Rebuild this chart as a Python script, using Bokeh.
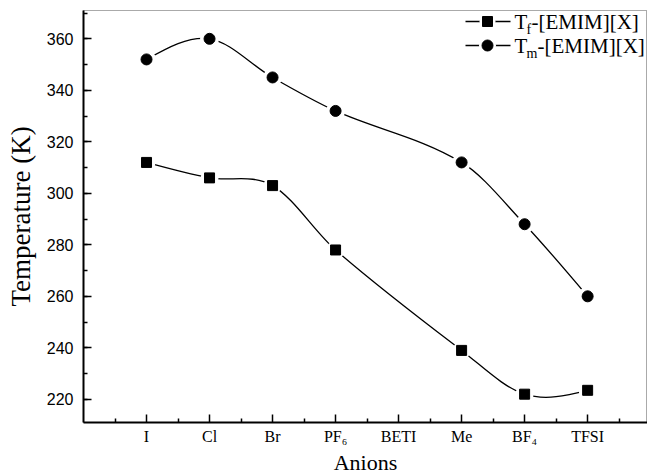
from bokeh.plotting import figure
from bokeh.models import FixedTicker, SingleIntervalTicker, Range1d, Title
from bokeh.core.properties import value
from bokeh.embed import file_html
from bokeh.resources import INLINE

# ---------------- data ----------------
anions = ["I", "Cl", "Br", "PF\u2086", "BETI", "Me", "BF\u2084", "TFSI"]
anion_pos = [1, 2, 3, 4, 5, 6, 7, 8]
tm_values = [352, 360, 345, 332, None, 312, 288, 260]     # T_m-[EMIM][X]
tf_values = [312, 306, 303, 278, None, 239, 222, 223.5]   # T_f-[EMIM][X]
minor_x = [0.5, 1.5, 2.5, 3.5, 4.5, 5.5, 6.5, 7.5, 8.5]
legend_tf = ("T", "f", "-[EMIM][X]")
legend_tm = ("T", "m", "-[EMIM][X]")
x_title = "Anions"
y_title = "Temperature (K)"

# ---------------- layout ----------------
X0, X1 = 0, 8.95
Y0, Y1 = 211, 371
FL, FT = 83, 10          # frame left / top in canvas pixels
FW, FH = 564, 412
SERIF = "Liberation Serif"
SANS = "Liberation Sans"

p = figure(frame_width=FW, frame_height=FH, x_range=Range1d(X0, X1), y_range=Range1d(Y0, Y1),
           output_backend="svg", toolbar_location=None,
           min_border_left=FL, min_border_right=0, min_border_top=FT, min_border_bottom=53)
p.background_fill_color = "white"
p.border_fill_color = "white"
p.xgrid.visible = False
p.ygrid.visible = False
p.outline_line_color = "#555555"
p.outline_line_width = 1
p.outline_line_dash = "1 1"

for ax in (p.xaxis[0], p.yaxis[0]):
    ax.axis_line_width = 2
    ax.axis_line_color = "black"
    ax.major_tick_line_width = 1.5
    ax.minor_tick_line_width = 1.5
    ax.major_tick_in = 8
    ax.major_tick_out = 0
    ax.minor_tick_in = 4
    ax.minor_tick_out = 0
    ax.axis_label_text_font = SERIF
    ax.axis_label_text_font_style = "normal"
    ax.axis_label_text_color = "black"
    ax.major_label_text_color = "black"

p.xaxis.ticker = FixedTicker(ticks=anion_pos, minor_ticks=minor_x)
p.xaxis.major_label_overrides = {k: v for k, v in zip(anion_pos, anions)}
p.xaxis.major_label_text_font = SERIF
p.xaxis.major_label_text_font_size = "16px"
p.xaxis.major_label_standoff = 5

p.yaxis.ticker = SingleIntervalTicker(interval=20, num_minor_ticks=2)
p.yaxis.major_label_text_font = SANS
p.yaxis.major_label_text_font_size = "16px"
p.yaxis.major_label_standoff = 10
p.yaxis.axis_label = y_title
p.yaxis.axis_label_text_font_size = "27px"
p.yaxis.axis_label_standoff = 8

# x-axis title (slightly left of centre, as in the reference)
p.add_layout(Title(text=x_title, align="center", offset=-32, standoff=0,
                   text_font=SERIF, text_font_size="22px", text_font_style="normal",
                   text_color="black"), "below")

sx = FW / (X1 - X0)
sy = FH / (Y1 - Y0)


def px_to_data(cx, cy):
    # canvas pixel -> data coordinates
    return X0 + (cx - FL) / sx, Y1 - (cy - FT) / sy


def smooth_curve(xs, ys):
    n = len(xs)
    m = [0.0] * n
    for i in range(1, n - 1):
        m[i] = (ys[i + 1] - ys[i - 1]) / (xs[i + 1] - xs[i - 1])
    d0 = (ys[1] - ys[0]) / (xs[1] - xs[0])
    dn = (ys[-1] - ys[-2]) / (xs[-1] - xs[-2])
    m[0] = (3 * d0 - m[1]) / 2
    m[-1] = (3 * dn - m[-2]) / 2
    seg = dict(x0=[], y0=[], x1=[], y1=[], cx0=[], cy0=[], cx1=[], cy1=[])
    for i in range(n - 1):
        h = xs[i + 1] - xs[i]
        seg["x0"].append(xs[i]); seg["y0"].append(ys[i])
        seg["x1"].append(xs[i + 1]); seg["y1"].append(ys[i + 1])
        seg["cx0"].append(xs[i] + h / 3); seg["cy0"].append(ys[i] + m[i] * h / 3)
        seg["cx1"].append(xs[i + 1] - h / 3); seg["cy1"].append(ys[i + 1] - m[i + 1] * h / 3)
    return seg


for vals, marker, msize in ((tf_values, "square", 10), (tm_values, "circle", 11)):
    xs = [x for x, v in zip(anion_pos, vals) if v is not None]
    ys = [v for v in vals if v is not None]
    seg = smooth_curve(xs, ys)
    p.bezier(x0="x0", y0="y0", x1="x1", y1="y1", cx0="cx0", cy0="cy0", cx1="cx1", cy1="cy1",
             source=seg, line_color="black", line_width=1.3)
    p.scatter(xs, ys, marker="circle", size=msize + 8, fill_color="white", line_color=None)
    p.scatter(xs, ys, marker=marker, size=msize, fill_color="black", line_color="black")

# ---------------- legend ----------------
for (label, marker, msize, row_y) in ((legend_tf, "square", 10, 21), (legend_tm, "circle", 11, 45)):
    lx0, ly = px_to_data(465, row_y)
    lx1, _ = px_to_data(510, row_y)
    mx, _ = px_to_data(487, row_y)
    p.line([lx0, lx1], [ly, ly], line_color="black", line_width=1.3)
    p.scatter([mx], [ly], marker="circle", size=msize + 6, fill_color="white", line_color=None)
    p.scatter([mx], [ly], marker=marker, size=msize, fill_color="black", line_color="black")
    tx, ty = px_to_data(514, row_y)
    p.text([tx], [ty], text=[label[0]], text_font=value(SERIF), text_font_size="21px",
           text_baseline="middle", text_align="left", text_color="black")
    p.text([tx], [ty], text=[label[1]], text_font=value(SERIF), text_font_size="14px",
           text_baseline="middle", text_align="left", text_color="black", x_offset=12, y_offset=8)
    sub_w = 5 if label[1] == "f" else 11
    p.text([tx], [ty], text=[label[2]], text_font=value(SERIF), text_font_size="21px",
           text_baseline="middle", text_align="left", text_color="black", x_offset=12 + sub_w)

open("out.html", "w").write(file_html(p, INLINE))
